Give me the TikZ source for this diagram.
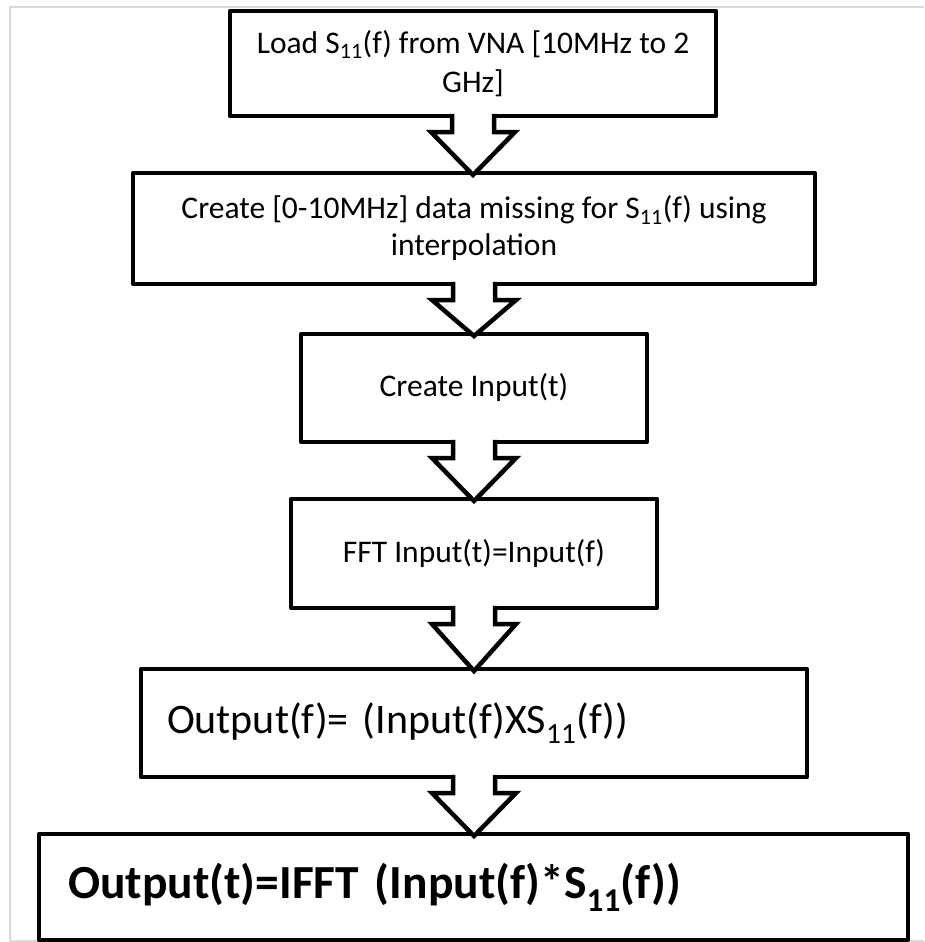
\documentclass[tikz,border=0pt]{standalone}
\usepackage{fontspec}
\setmainfont{Carlito}
\usetikzlibrary{calc}
\tikzset{
  box/.style={draw=black, line width=4.5pt, rectangle, inner sep=0pt, outer sep=0pt,
              align=center, line join=round, fill=white},
  frameline/.style={draw=black!15, line width=1.5pt},
  arrowline/.style={draw=black, line width=4.5pt, line join=miter},
}
\newcommand{\flowarrow}[2]{%
  \fill[white] ($(#1.south)+(-21,-2.3)$) rectangle ($(#1.south)+(21,16)$);
  \fill[white] ($(#1.south)+(-42,16)$) -- ($(#1.south |- #2.north)+(0,2)$) -- ($(#1.south)+(42,16)$) -- cycle;
  \draw[arrowline] ($(#1.south)+(-21,-2.25)$) -- ($(#1.south)+(-21,16)$) -- ($(#1.south)+(-42,16)$)
     -- ($(#1.south |- #2.north)+(0,2)$) -- ($(#1.south)+(42,16)$) -- ($(#1.south)+(21,16)$)
     -- ($(#1.south)+(21,-2.25)$);
}
\begin{document}
\begin{tikzpicture}[x=1pt,y=-1pt]
\useasboundingbox (0,0) rectangle (924,942);
\draw[frameline] (10,941) -- (10,7) -- (924,7);
\draw[frameline] (10,941) -- (924,941);

\node[box, minimum width=486pt, minimum height=105pt, font=\fontsize{31.5}{39}\selectfont]
  (b1) at (473,63.5) {Load S\textsubscript{11}(f) from VNA [10MHz to 2\\GHz]};
\node[box, minimum width=682pt, minimum height=111pt, font=\fontsize{31.5}{37}\selectfont]
  (b2) at (474,228.5) {Create [0-10MHz] data missing for S\textsubscript{11}(f) using\\interpolation};
\node[box, minimum width=346pt, minimum height=108pt, font=\fontsize{31.5}{37}\selectfont]
  (b3) at (474,388) {Create Input(t)};
\node[box, minimum width=366pt, minimum height=109pt, font=\fontsize{31.5}{37}\selectfont]
  (b4) at (474,553.5) {FFT Input(t)=Input(f)};
\node[box, minimum width=666pt, minimum height=108pt, text width=614pt, inner xsep=26pt,
      align=left, font=\fontsize{42}{50}\selectfont]
  (b5) at (474,723) {Output(f)= (Input(f)XS\textsubscript{11}(f))};
\node[box, minimum width=869pt, minimum height=106pt, text width=811pt, inner xsep=29pt,
      align=left, font=\fontsize{47.5}{56}\selectfont\bfseries]
  (b6) at (473.5,887) {Output(t)=IFFT (Input(f)*S\textsubscript{11}(f))};

\flowarrow{b1}{b2}
\flowarrow{b2}{b3}
\flowarrow{b3}{b4}
\flowarrow{b4}{b5}
\flowarrow{b5}{b6}
\end{tikzpicture}
\end{document}
